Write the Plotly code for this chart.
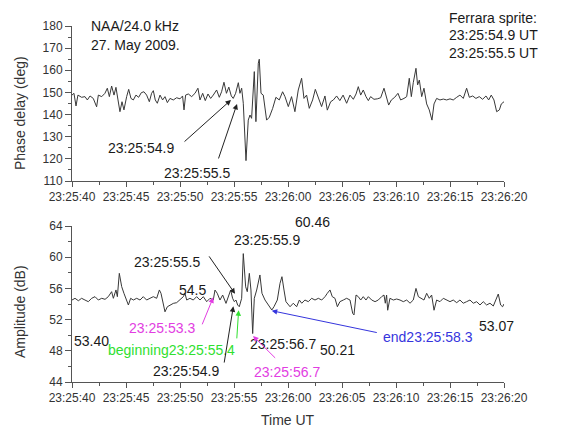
import plotly.graph_objects as go

# ---------------- data (seconds after 23:25:40 UT) ----------------
phase_t = [0, 0.18, 0.37, 0.55, 0.89, 1.2, 1.42, 1.67, 1.97, 2.28, 2.44, 2.75, 3.05, 3.27, 3.46, 3.67,
           3.89, 4.07, 4.26, 4.44, 4.63, 4.81, 5.06, 5.25, 5.46, 5.68, 5.92, 6.17, 6.42, 6.66, 6.91,
           7.16, 7.37, 7.53, 7.71, 7.9, 8.15, 8.39, 8.61, 8.83, 9.07, 9.38, 9.69, 10.0, 10.24, 10.37,
           10.52, 10.77, 11.08, 11.39, 11.66, 11.85, 12.1, 12.34, 12.59, 12.84, 13.08, 13.39, 13.64,
           13.85, 14.07, 14.3, 14.52, 14.75, 14.93, 15.15, 15.4, 15.55, 15.71, 15.86, 16.11, 16.32,
           16.48, 16.63, 16.88, 17.03, 17.25, 17.34, 17.5, 17.71, 18.02, 18.27, 18.58, 18.88, 19.19,
           19.5, 19.72, 20.03, 20.33, 20.64, 20.95, 21.26, 21.48, 21.72, 21.97, 22.28, 22.53, 22.8,
           23.11, 23.42, 23.64, 23.95, 24.2, 24.5, 24.8, 25.1, 25.43, 25.74, 26.05, 26.3, 26.51,
           26.73, 26.97, 27.22, 27.44, 27.65, 27.96, 28.27, 28.58, 28.89, 29.13, 29.32, 29.57, 29.88,
           30.18, 30.43, 30.74, 30.99, 31.23, 31.42, 31.6, 31.85, 32.0, 32.16, 32.38, 32.59, 32.84,
           33.08, 33.33, 33.52, 33.76, 34.07, 34.38, 34.69, 35.0, 35.3, 35.62, 35.92, 36.23, 36.54,
           36.79, 37.1, 37.4, 37.71, 38.02, 38.33, 38.58, 38.82, 39.07, 39.32, 39.57, 39.75, 40.0]
phase_deg = [148.8, 149.6, 143.9, 148.8, 147.8, 148.1, 146.6, 148.4, 147.3, 143.5, 148.8, 148.1, 149.6,
             151.9, 148.1, 152.9, 148.8, 152.3, 146.6, 141.3, 145.8, 142.1, 148.1, 151.4, 147.3, 146.6,
             148.8, 147.8, 149.9, 150.3, 148.8, 145.8, 149.6, 150.8, 146.6, 145.1, 148.8, 146.6, 148.1,
             145.4, 147.3, 146.6, 147.6, 147.1, 148.4, 142.1, 148.8, 149.3, 148.1, 149.6, 151.9, 146.6,
             149.6, 146.3, 149.3, 147.3, 148.8, 151.1, 147.8, 150.3, 154.6, 149.6, 152.4, 148.4, 147.3,
             149.6, 154.4, 149.6, 151.9, 145.1, 119.2, 137.5, 139.8, 138.3, 159.4, 136.8, 163.2, 165.0,
             149.6, 148.8, 137.5, 138.8, 142.8, 147.8, 146.6, 150.3, 148.1, 143.6, 148.1, 141.3, 151.1,
             156.4, 147.3, 148.8, 142.8, 146.6, 151.4, 147.3, 143.6, 148.4, 142.0, 145.8, 146.6, 148.4,
             146.3, 148.8, 145.1, 148.8, 146.9, 149.3, 152.6, 148.8, 151.1, 148.1, 146.3, 148.1, 146.9,
             147.1, 147.6, 151.9, 147.3, 144.3, 146.6, 147.8, 149.6, 146.6, 147.3, 148.1, 156.4, 148.1,
             154.4, 160.9, 153.4, 155.6, 148.1, 151.9, 144.8, 142.1, 137.5, 144.8, 147.3, 146.6, 147.0,
             146.6, 147.1, 146.6, 147.8, 148.8, 147.3, 151.9, 147.8, 148.4, 147.3, 148.1, 146.9, 148.4,
             146.6, 148.8, 146.6, 141.3, 142.1, 144.8, 145.8]

amp_t = [0.0, 0.28, 0.59, 0.89, 1.2, 1.51, 1.82, 2.13, 2.44, 2.75, 3.06, 3.36, 3.67, 3.83, 4.07, 4.2,
         4.38, 4.6, 4.81, 5.06, 5.22, 5.43, 5.68, 5.99, 6.3, 6.6, 6.91, 7.22, 7.53, 7.84, 8.09, 8.24,
         8.39, 8.61, 8.83, 9.07, 9.38, 9.69, 10.0, 10.31, 10.46, 10.62, 10.92, 11.23, 11.54, 11.85,
         12.16, 12.47, 12.78, 13.08, 13.24, 13.45, 13.7, 13.95, 14.26, 14.47, 14.69, 14.87, 15.03,
         15.18, 15.34, 15.49, 15.71, 15.86, 16.08, 16.23, 16.42, 16.57, 16.73, 16.88, 17.1, 17.4,
         17.59, 17.87, 18.18, 18.5, 18.7, 19.01, 19.26, 19.44, 19.63, 19.81, 20.19, 20.49, 20.8,
         21.05, 21.27, 21.57, 21.88, 22.19, 22.5, 22.81, 23.12, 23.43, 23.64, 23.89, 24.1, 24.35,
         24.57, 24.81, 25.12, 25.43, 25.74, 25.99, 26.11, 26.3, 26.51, 26.73, 26.97, 27.22, 27.44,
         27.75, 28.06, 28.36, 28.67, 28.89, 29.01, 29.13, 29.23, 29.44, 29.75, 30.06, 30.37, 30.68,
         30.99, 31.3, 31.6, 31.85, 32.07, 32.38, 32.59, 32.84, 33.08, 33.3, 33.52, 33.76, 34.07,
         34.38, 34.69, 35.0, 35.3, 35.62, 35.92, 36.23, 36.54, 36.85, 37.16, 37.47, 37.78, 38.08,
         38.39, 38.7, 39.01, 39.26, 39.47, 39.69, 39.87, 40.0]
amp_db = [54.51, 54.73, 54.42, 54.73, 54.51, 54.3, 54.73, 54.94, 54.51, 54.73, 54.6, 54.94, 55.58,
          54.73, 55.8, 54.94, 57.93, 56.23, 55.37, 54.51, 53.87, 54.73, 54.51, 54.73, 54.51, 54.94,
          54.51, 54.73, 54.94, 54.73, 55.8, 55.37, 54.51, 53.0, 53.65, 53.87, 54.08, 54.17, 54.51,
          54.94, 55.37, 54.51, 54.73, 54.51, 54.94, 54.51, 54.94, 54.3, 54.73, 54.51, 55.79, 55.37,
          54.51, 55.15, 54.08, 54.94, 55.79, 54.73, 54.3, 54.51, 53.87, 53.65, 54.73, 60.46, 56.2,
          55.58, 57.93, 55.79, 50.21, 54.73, 55.79, 57.72, 55.37, 54.51, 53.87, 53.23, 53.65, 54.51,
          56.65, 57.5, 55.79, 54.3, 53.65, 54.1, 53.65, 54.51, 54.1, 54.51, 54.3, 54.73, 54.51, 54.73,
          54.51, 54.94, 55.37, 55.8, 54.94, 54.73, 53.65, 54.3, 54.51, 54.73, 54.51, 52.8, 52.6, 55.15,
          54.94, 54.51, 54.94, 54.51, 54.94, 54.51, 54.3, 54.51, 54.94, 55.15, 54.1, 55.15, 53.2,
          54.73, 54.51, 54.64, 54.51, 54.3, 54.51, 54.1, 54.51, 56.0, 54.94, 54.73, 54.51, 55.37,
          54.73, 55.15, 53.2, 54.51, 54.3, 54.73, 54.51, 54.3, 54.51, 54.17, 54.51, 54.1, 54.3, 54.51,
          54.1, 54.3, 53.87, 54.3, 53.87, 54.1, 53.74, 54.51, 55.28, 53.87, 53.65, 54.0]

tick_vals = [0, 5, 10, 15, 20, 25, 30, 35, 40]
tick_text = ["23:25:40", "23:25:45", "23:25:50", "23:25:55", "23:26:00",
             "23:26:05", "23:26:10", "23:26:15", "23:26:20"]
minor_vals = [2.5, 7.5, 12.5, 17.5, 22.5, 27.5, 32.5, 37.5]

# ---------------- styling ----------------
FONT = "Arial, Liberation Sans, sans-serif"
LINE = "#383838"
AXC = "#555555"
TXT = "#1a1a1a"
MAG = "#e23de2"
GRN = "#2fe02f"
BLU = "#3535dd"

W, H = 570, 429
ML, MR, MT, MB = 72, 66, 26, 47
PW, PH = W - ML - MR, H - MT - MB


def px(xp):
    return (xp - ML) / PW


def py(yp):
    return (H - MB - yp) / PH


fig = go.Figure()
fig.add_trace(go.Scatter(x=phase_t, y=phase_deg, mode="lines", xaxis="x", yaxis="y",
                         line=dict(color=LINE, width=1), showlegend=False))
fig.add_trace(go.Scatter(x=amp_t, y=amp_db, mode="lines", xaxis="x2", yaxis="y2",
                         line=dict(color=LINE, width=1), showlegend=False))

xcommon = dict(range=[0, 40], tickmode="array", tickvals=tick_vals, ticktext=tick_text,
               showgrid=False, zeroline=False, showline=True, linecolor=AXC, linewidth=1,
               ticks="outside", ticklen=5, tickcolor=AXC, automargin=False,
               minor=dict(tickmode="array", tickvals=minor_vals, ticks="outside", ticklen=3,
                          tickcolor=AXC),
               tickfont=dict(family=FONT, size=12, color="#333333"))
ycommon = dict(showgrid=False, zeroline=False, showline=True, linecolor=AXC, linewidth=1,
               ticks="outside", ticklen=6, tickcolor=AXC, automargin=False,
               tickfont=dict(family=FONT, size=12, color="#333333"))

fig.update_layout(
    width=W, height=H, autosize=False,
    margin=dict(l=ML, r=MR, t=MT, b=MB, pad=0),
    paper_bgcolor="white", plot_bgcolor="white",
    font=dict(family=FONT, size=14, color=TXT),
    xaxis=dict(domain=[0, 1], anchor="y", **xcommon),
    yaxis=dict(domain=[py(181), 1.0], anchor="x", range=[110, 180], tickmode="linear",
               tick0=110, dtick=10,
               minor=dict(dtick=5, ticks="outside", ticklen=3, tickcolor=AXC), **ycommon),
    xaxis2=dict(domain=[0, 1], anchor="y2", **xcommon),
    yaxis2=dict(domain=[0, py(226)], anchor="x2", range=[44, 64], tickmode="linear",
                tick0=44, dtick=4,
                minor=dict(dtick=2, ticks="outside", ticklen=3, tickcolor=AXC), **ycommon),
)

ann = []


def text(x, y, s, xr, yr, color=TXT, xanchor="center"):
    ann.append(dict(x=x, y=y, xref=xr, yref=yr, text=s, showarrow=False,
                    xanchor=xanchor, yanchor="middle",
                    font=dict(family=FONT, size=14, color=color)))


def ptext(xp, yp, s, color=TXT, xanchor="center", angle=0):
    ann.append(dict(x=px(xp), y=py(yp), xref="paper", yref="paper", text=s, showarrow=False,
                    xanchor=xanchor, yanchor="middle", textangle=angle,
                    font=dict(family=FONT, size=14, color=color)))


def arrow(x, y, ax, ay, xr, yr, color):
    ann.append(dict(x=x, y=y, ax=ax, ay=ay, xref=xr, yref=yr, axref=xr, ayref=yr,
                    text="", showarrow=True, arrowhead=2, arrowsize=1.1, arrowwidth=1,
                    arrowcolor=color, standoff=0, startstandoff=0))


# axis titles
ptext(20, 113, "Phase delay (deg)", color="#333333", angle=-90)
ptext(20, 312, "Amplitude (dB)", color="#333333", angle=-90)
ptext(288, 420, "Time UT", color="#333333")

# top panel
ptext(89, 26, "NAA/24.0 kHz", xanchor="left")
ptext(89, 45, "27. May 2009.", xanchor="left")
ptext(447, 18, "Ferrara sprite:", xanchor="left")
ptext(447, 35, "23:25:54.9 UT", xanchor="left")
ptext(447, 53, "23:25:55.5 UT", xanchor="left")
text(6.39, 124.9, "23:25:54.9", "x", "y")
text(11.57, 113.6, "23:25:55.5", "x", "y")
arrow(14.72, 146.6, 10.28, 127.2, "x", "y", "#222222")
arrow(15.28, 144.8, 13.52, 119.5, "x", "y", "#222222")

# bottom panel
ptext(312, 222, "60.46")
text(18.06, 62.2, "23:25:55.9", "x2", "y2")
text(8.75, 59.35, "23:25:55.5", "x2", "y2")
arrow(15.1, 55.3, 12.6, 60.3, "x2", "y2", "#222222")
text(11.16, 55.8, "54.5", "x2", "y2")
text(8.3, 50.9, "23:25:53.3", "x2", "y2", color=MAG)
arrow(13.08, 54.85, 12.0, 51.2, "x2", "y2", MAG)
text(1.85, 49.3, "53.40", "x2", "y2")
text(9.2, 48.1, "beginning23:25:55.4", "x2", "y2", color=GRN)
arrow(15.43, 53.2, 15.25, 49.4, "x2", "y2", GRN)
text(10.55, 45.45, "23:25:54.9", "x2", "y2")
arrow(14.94, 53.7, 14.07, 46.3, "x2", "y2", "#222222")
text(19.57, 48.9, "23:25:56.7", "x2", "y2")
text(24.6, 48.1, "50.21", "x2", "y2")
text(19.88, 45.3, "23:25:56.7", "x2", "y2", color=MAG)
arrow(16.76, 49.9, 18.95, 46.9, "x2", "y2", MAG)
text(33.0, 49.8, "end23:25:58.3", "x2", "y2", color=BLU)
arrow(18.49, 53.14, 28.36, 50.3, "x2", "y2", BLU)
text(39.26, 51.2, "53.07", "x2", "y2")

fig.update_layout(annotations=ann)
fig.write_html("out.html", config={"displayModeBar": False},
               post_script="document.body.style.margin='0';")
